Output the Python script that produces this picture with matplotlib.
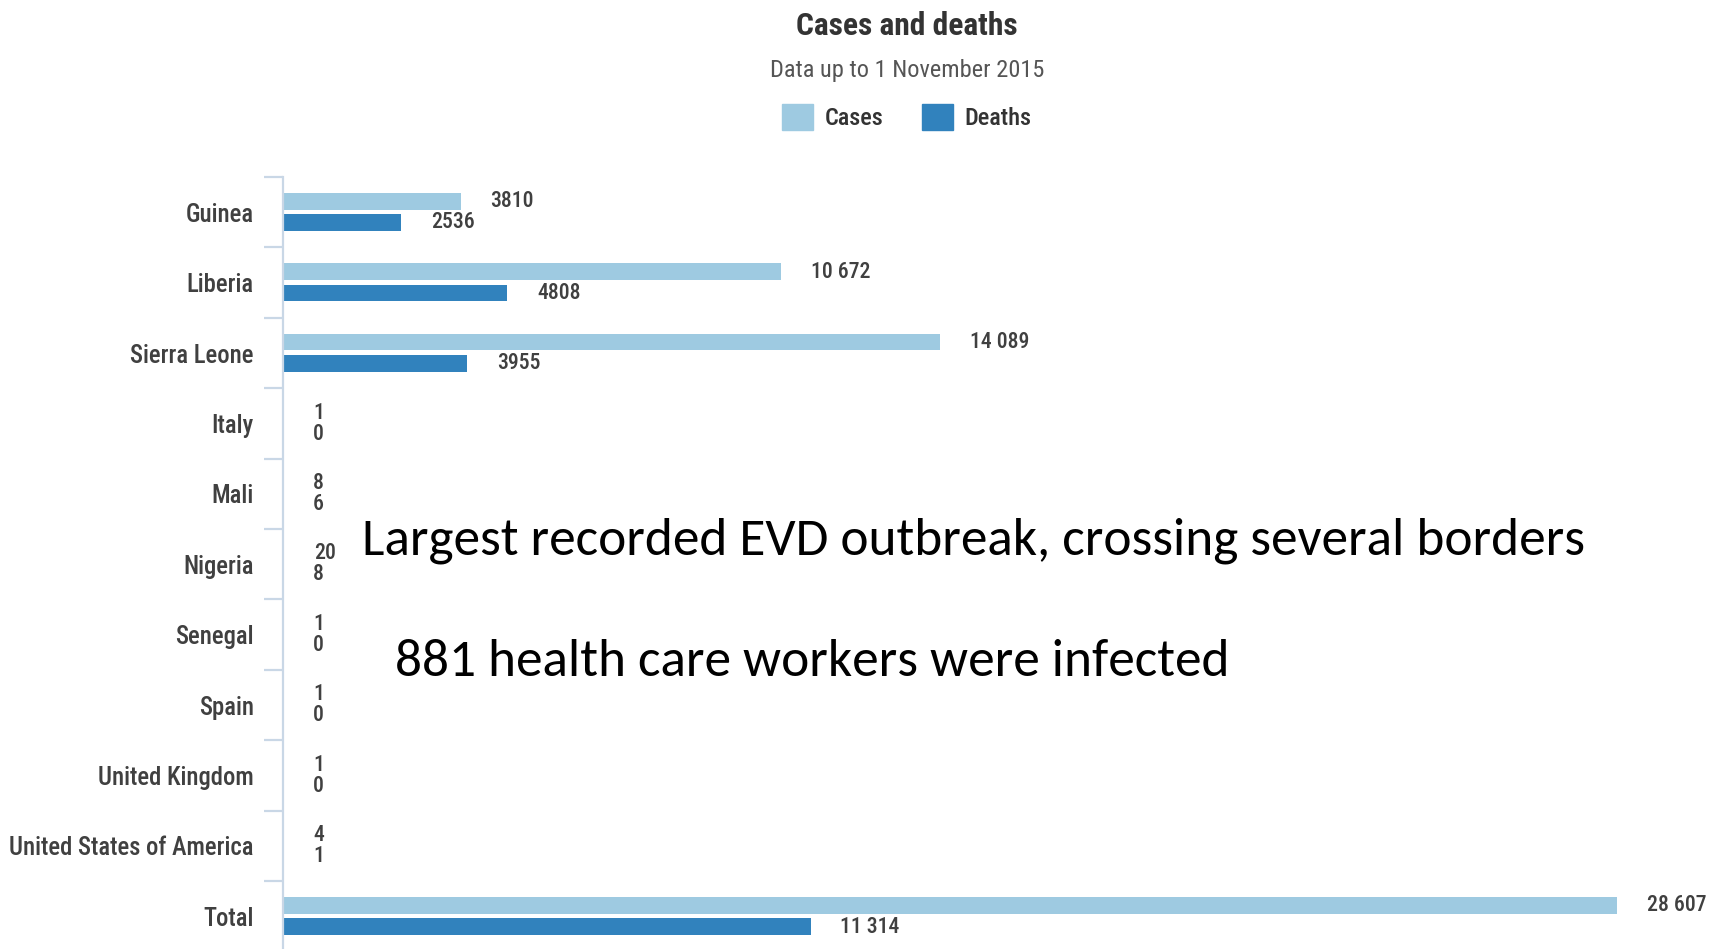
import numpy as np
import matplotlib.pyplot as plt
from matplotlib.patches import Patch
#--------------------------------------------------------------------------------------------------------------------
# Data
#--------------------------------------------------------------------------------------------------------------------
countries = ['Guinea', 'Liberia', 'Sierra Leone', 'Italy', 'Mali', 'Nigeria', 'Senegal', 'Spain',
             'United Kingdom', 'United States of America', 'Total']
cases  = [3810, 10672, 14089, 1, 8, 20, 1, 1, 1, 4, 28607]
deaths = [2536,  4808,  3955, 0, 6,  8, 0, 0, 0, 1, 11314]
notes  = ['Largest recorded EVD outbreak, crossing several borders',
          '881 health care workers were infected']
#--------------------------------------------------------------------------------------------------------------------
# Style
#--------------------------------------------------------------------------------------------------------------------
narrow = ['Roboto Condensed', 'DejaVu Sans']
c_cases  = '#9ECAE1'
c_deaths = '#3182BD'
c_text   = '#404040'
c_axis   = '#C9D7E6'

def fmt(v):
    if v >= 10000:
        return '{:,}'.format(v).replace(',', ' ')
    return str(v)
#--------------------------------------------------------------------------------------------------------------------
# Figure
#--------------------------------------------------------------------------------------------------------------------
fig = plt.figure(figsize=(17.21, 9.49), dpi=100)
ax = fig.add_axes([283/1721, -2.5/949, 1 - 283/1721, 774.5/949])

y = np.arange(len(countries))
off_c, off_d = -0.155, 0.145
h = 0.235
ax.barh(y + off_c, cases,  height=h, color=c_cases)
ax.barh(y + off_d, deaths, height=h, color=c_deaths)

for i in range(len(countries)):
    ax.annotate(fmt(cases[i]), (cases[i], y[i] + off_c), xytext=(21.5, 0), textcoords='offset points',
                ha='left', va='center', fontsize=15.7, fontweight='medium', color=c_text, family=narrow)
    ax.annotate(fmt(deaths[i]), (deaths[i], y[i] + off_d), xytext=(21.5, 0), textcoords='offset points',
                ha='left', va='center', fontsize=15.7, fontweight='medium', color=c_text, family=narrow)

ax.set_xlim(0, 30837)
ax.set_ylim(len(countries) - 0.5, -0.5)
ax.set_yticks(y)
ax.set_yticklabels(countries, family=narrow, fontsize=17.7, fontweight='medium', color=c_text)
ax.set_yticks(np.arange(-0.5, len(countries)), minor=True)
ax.tick_params(axis='y', which='major', length=0, pad=21)
ax.tick_params(axis='y', which='minor', length=13.4, width=1.6, color=c_axis)
ax.set_xticks([])
for s in ['top', 'right', 'bottom']:
    ax.spines[s].set_visible(False)
ax.spines['left'].set_color(c_axis)
ax.spines['left'].set_linewidth(1.6)
#--------------------------------------------------------------------------------------------------------------------
# Titles, legend and notes
#--------------------------------------------------------------------------------------------------------------------
fig.text(907/1721, 1 - 26/949, 'Cases and deaths', ha='center', va='center',
         fontsize=22.7, fontweight='bold', color='#333333', family=narrow)
fig.text(907/1721, 1 - 70/949, 'Data up to 1 November 2015', ha='center', va='center',
         fontsize=17.6, color='#555555', family=narrow)
handles = [Patch(color=c_cases, label='Cases'), Patch(color=c_deaths, label='Deaths')]
leg = fig.legend(handles=handles, loc='center', bbox_to_anchor=(907/1721, 1 - 117/949), ncol=2,
                 frameon=False, handlelength=1.25, handleheight=1.3, handletextpad=0.5,
                 columnspacing=1.6, prop={'family': narrow, 'size': 17.5, 'weight': 'medium'})
for t in leg.get_texts():
    t.set_color('#333333')

fig.text(362/1721, 1 - 541/949, notes[0], ha='left', va='center', fontsize=38.3, color='black', family='Carlito')
fig.text(395/1721, 1 - 662/949, notes[1], ha='left', va='center', fontsize=38.3, color='black', family='Carlito')

plt.savefig('out.png', dpi=100)
